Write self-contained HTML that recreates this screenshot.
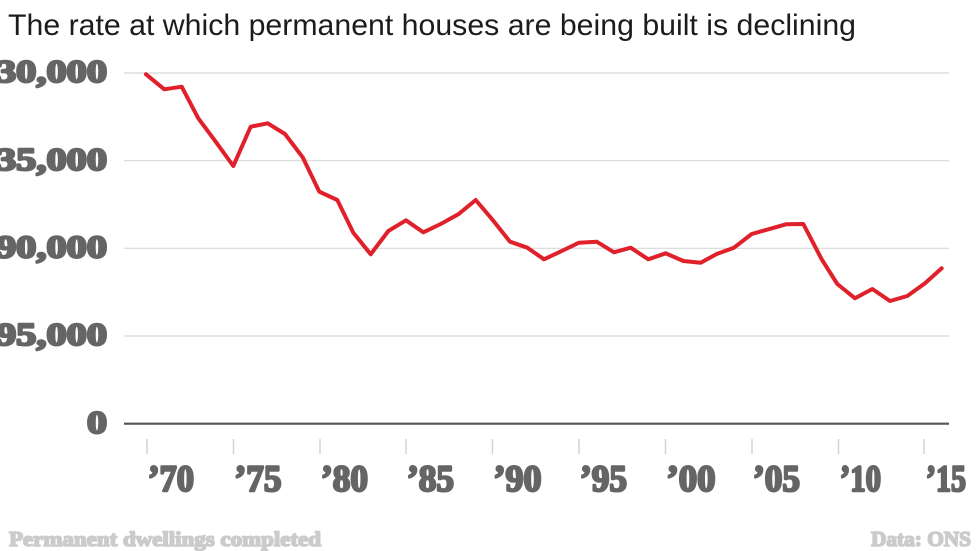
<!DOCTYPE html>
<html>
<head>
<meta charset="utf-8">
<style>
  html, body { margin:0; padding:0; background:#fff; }
  body { width:980px; height:551px; overflow:hidden; }
  svg { display:block; }
  .ax { font-family:"Liberation Serif", serif; font-weight:bold; fill:#656565; stroke:#656565; stroke-width:2.4px; stroke-linejoin:round; }
  .ft { font-family:"Liberation Serif", serif; font-weight:bold; fill:#cbcbcb; stroke:#cbcbcb; stroke-width:1.6px; stroke-linejoin:round; }
</style>
</head>
<body>
<svg width="980" height="551" viewBox="0 0 980 551" xmlns="http://www.w3.org/2000/svg">
  <rect width="980" height="551" fill="#fff"/>
  <!-- title -->
  <text x="8" y="35" font-family="'Liberation Sans', sans-serif" font-size="30" fill="#1c1c1c" textLength="848" lengthAdjust="spacingAndGlyphs">The rate at which permanent houses are being built is declining</text>

  <!-- gridlines -->
  <g stroke="#d8d8d8" stroke-width="1.2">
    <line x1="124" y1="73" x2="949" y2="73"/>
    <line x1="124" y1="160.7" x2="949" y2="160.7"/>
    <line x1="124" y1="248.3" x2="949" y2="248.3"/>
    <line x1="124" y1="336" x2="949" y2="336"/>
  </g>
  <line x1="124" y1="423.7" x2="949" y2="423.7" stroke="#555" stroke-width="2.2"/>

  <!-- y labels -->
  <g class="ax" font-size="32" text-anchor="end">
    <text x="107" y="82" textLength="111" lengthAdjust="spacingAndGlyphs">30,000</text>
    <text x="107" y="170" textLength="111" lengthAdjust="spacingAndGlyphs">35,000</text>
    <text x="107" y="257.5" textLength="111" lengthAdjust="spacingAndGlyphs">90,000</text>
    <text x="107" y="345" textLength="111" lengthAdjust="spacingAndGlyphs">95,000</text>
    <text x="107" y="433" textLength="20" lengthAdjust="spacingAndGlyphs">0</text>
  </g>

  <!-- ticks -->
  <g stroke="#cfcfcf" stroke-width="1.4">
    <line x1="147" y1="439" x2="147" y2="454"/>
    <line x1="233.5" y1="439" x2="233.5" y2="454"/>
    <line x1="320" y1="439" x2="320" y2="454"/>
    <line x1="406" y1="439" x2="406" y2="454"/>
    <line x1="492.5" y1="439" x2="492.5" y2="454"/>
    <line x1="579" y1="439" x2="579" y2="454"/>
    <line x1="665.5" y1="439" x2="665.5" y2="454"/>
    <line x1="752" y1="439" x2="752" y2="454"/>
    <line x1="838.5" y1="439" x2="838.5" y2="454"/>
    <line x1="924" y1="439" x2="924" y2="454"/>
  </g>

  <!-- x labels -->
  <g class="ax" font-size="37">
    <text x="148" y="491" textLength="46" lengthAdjust="spacingAndGlyphs">’70</text>
    <text x="234.5" y="491" textLength="47" lengthAdjust="spacingAndGlyphs">’75</text>
    <text x="321" y="491" textLength="47" lengthAdjust="spacingAndGlyphs">’80</text>
    <text x="407" y="491" textLength="47" lengthAdjust="spacingAndGlyphs">’85</text>
    <text x="493.5" y="491" textLength="48" lengthAdjust="spacingAndGlyphs">’90</text>
    <text x="580" y="491" textLength="47" lengthAdjust="spacingAndGlyphs">’95</text>
    <text x="666.5" y="491" textLength="49" lengthAdjust="spacingAndGlyphs">’00</text>
    <text x="753" y="491" textLength="47" lengthAdjust="spacingAndGlyphs">’05</text>
    <text x="840" y="491" textLength="41" lengthAdjust="spacingAndGlyphs">’10</text>
    <text x="926" y="491" textLength="40" lengthAdjust="spacingAndGlyphs">’15</text>
  </g>

  <!-- data line -->
  <polyline fill="none" stroke="#e0202a" stroke-width="4" stroke-linejoin="round" stroke-linecap="round"
    points="146,74.3 164.3,89.3 181.7,86.7 198.3,118.3 215.7,141.7 233.3,166 250.7,126.7 267.7,123.3 285,134 302.7,157.3 319.3,191.7 337.3,200 353.3,232.7 370.7,254.3 388.3,231 406,220.3 423.3,232.3 440.7,224 458.3,214.3 475.7,200 493.3,220.7 510,241.7 527.3,247.7 544,259.3 561.7,251 579,242.7 596.7,241.7 614,252.3 630.7,247.7 648.3,259.3 665.7,253.3 683.3,261 700.7,262.7 716.7,254 734,247.7 751.7,234 768.3,229.3 786,224.3 803.3,224 821.7,259.3 837.3,284 855,298.3 872.3,289 890,301 907.3,296 925,283.3 941.7,268.3"/>

  <!-- footer -->
  <g class="ft" font-size="21">
    <text x="9" y="546" textLength="312" lengthAdjust="spacingAndGlyphs">Permanent dwellings completed</text>
    <text x="971" y="546" text-anchor="end" textLength="100" lengthAdjust="spacingAndGlyphs">Data: ONS</text>
  </g>
</svg>
</body>
</html>
